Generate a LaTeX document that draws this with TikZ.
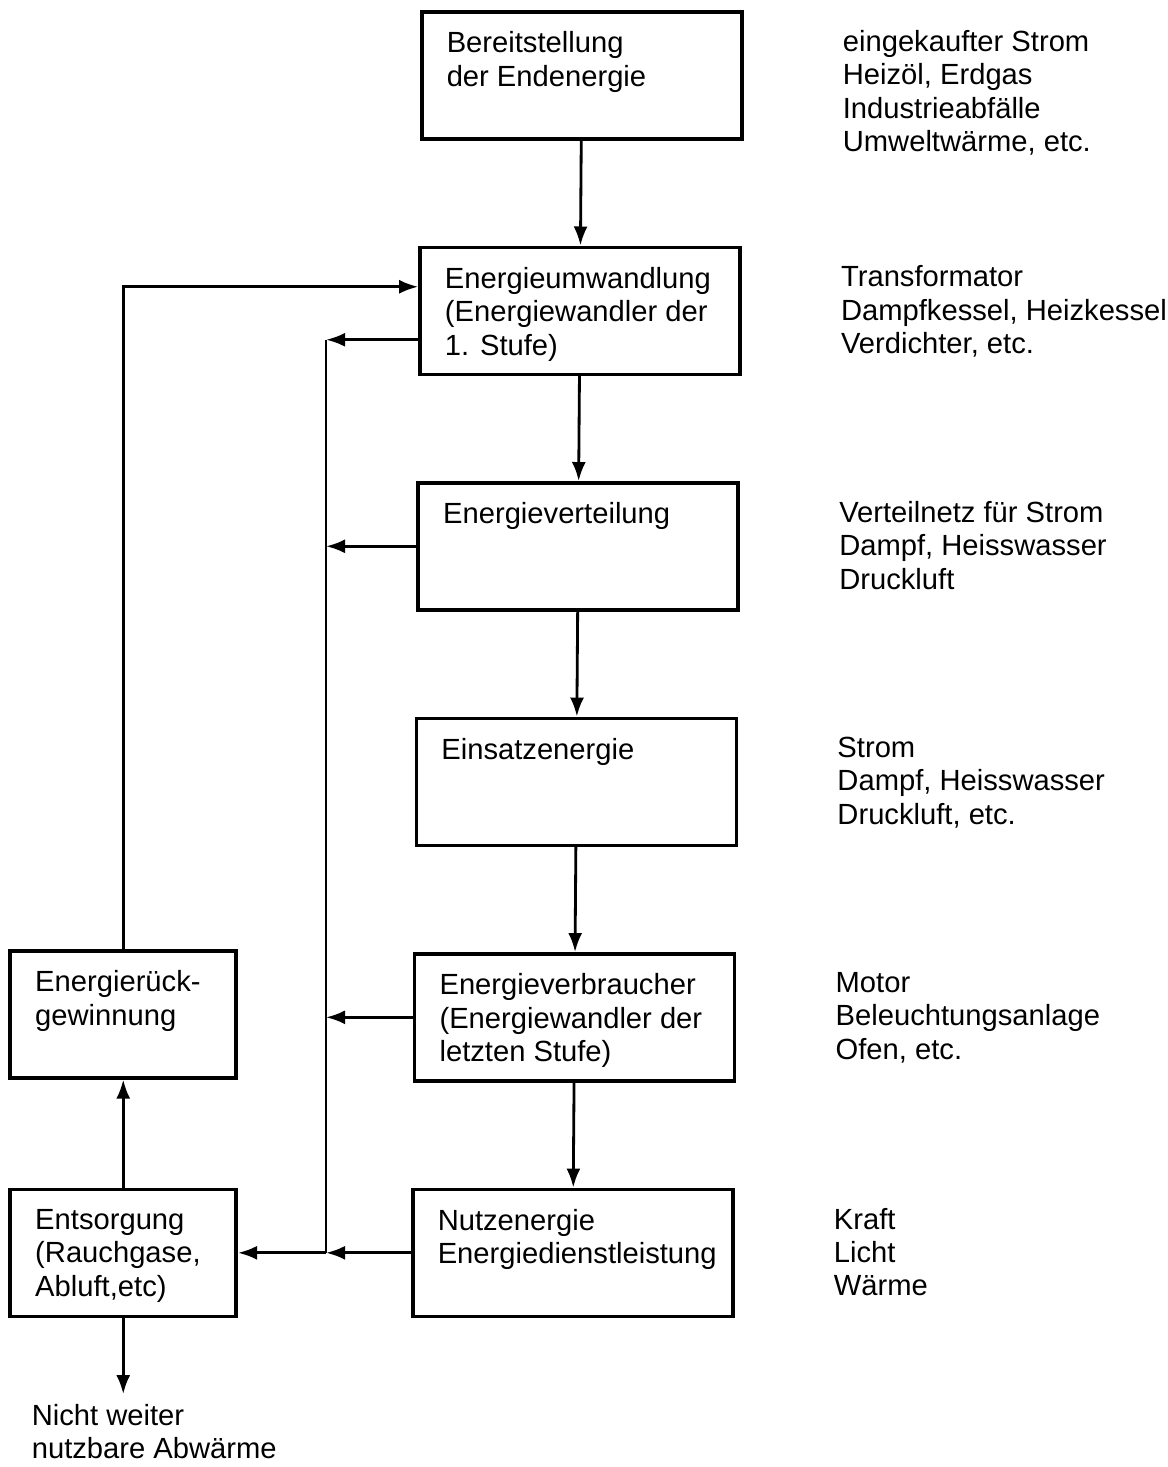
\documentclass[tikz,border=0pt]{standalone}
\usepackage{fontspec}
\setmainfont{Liberation Sans}
\usetikzlibrary{positioning,arrows.meta}

\newcommand{\boxtext}[2][5.4cm]{\parbox[t][1.74cm][t]{#1}{\raggedright #2}}

\begin{document}
\begin{tikzpicture}[node distance=2.1cm,
    every node/.style = {font=\fontsize{16.6}{19}\selectfont},
    stepbox/.style = {draw, line width=2pt, inner xsep=0.5cm, inner ysep=0.4cm},
    info/.style = {inner sep=0pt, align=left},
    flow/.style = {draw, line width=1.6pt, -{Latex[length=0.38cm,width=0.28cm]}}]
  \useasboundingbox (0,0) rectangle (23.34,-29.34);

  \node[stepbox, anchor=north west] (bereit) at (8.4,-0.2) {\boxtext{Bereitstellung\\der Endenergie}};
  \node[stepbox, below=of bereit, xshift=-0.036cm] (umwandl) {\boxtext{Energieumwandlung\\(Energiewandler der\\1. Stufe)}};
  \node[stepbox, below=of umwandl, xshift=-0.036cm] (verteil) {\boxtext{Energieverteilung}};
  \node[stepbox, below=of verteil, xshift=-0.036cm] (einsatz) {\boxtext{Einsatzenergie}};
  \node[stepbox, below=of einsatz, xshift=-0.036cm] (verbrauch) {\boxtext{Energieverbraucher\\(Energiewandler der\\letzten Stufe)}};
  \node[stepbox, below=of verbrauch, xshift=-0.036cm] (nutz) {\boxtext{Nutzenergie\\Energiedienstleistung}};
  \node[stepbox, left=3.46cm of nutz] (entsorg) {\boxtext[3.52cm]{Entsorgung\\(Rauchgase,\\Abluft,etc)}};
  \node[stepbox, above=2.16cm of entsorg] (rueck) {\boxtext[3.52cm]{Energierück-\\gewinnung}};

  \node[info, below right=0.4cm and 1.98cm of bereit.north east] (bereitinfo) {eingekaufter Strom\\Heizöl, Erdgas\\Industrieabfälle\\Umweltwärme, etc.};
  \node[info, below right=0.4cm and 1.98cm of umwandl.north east] (umwandlinfo) {Transformator\\Dampfkessel, Heizkessel\\Verdichter, etc.};
  \node[info, below right=0.4cm and 1.98cm of verteil.north east] (verteilinfo) {Verteilnetz für Strom\\Dampf, Heisswasser\\Druckluft};
  \node[info, below right=0.4cm and 1.98cm of einsatz.north east] (einsatzinfo) {Strom\\Dampf, Heisswasser\\Druckluft, etc.};
  \node[info, below right=0.4cm and 1.98cm of verbrauch.north east] (verbrauchinfo) {Motor\\Beleuchtungsanlage\\Ofen, etc.};
  \node[info, below right=0.4cm and 1.98cm of nutz.north east] (nutzinfo) {Kraft\\Licht\\Wärme};
  \node[info, below right=1.72cm and 0.46cm of entsorg.south west] (abwaerme) {Nicht weiter\\nutzbare Abwärme};

  \coordinate[left=1.7cm of nutz.west] (bus);
  \coordinate[below=0.58cm of umwandl.west] (umwout);
  \coordinate[above=0.48cm of umwandl.west] (umwin);
  \coordinate[below=1.52cm of entsorg.south] (abwend);

  \draw[flow] (bereit) -- (umwandl);
  \draw[flow] (umwandl) -- (verteil);
  \draw[flow] (verteil) -- (einsatz);
  \draw[flow] (einsatz) -- (verbrauch);
  \draw[flow] (verbrauch) -- (nutz);

  \draw[line width=1.6pt] (umwout -| bus) -- (bus);
  \draw[flow] (umwout) -- (umwout -| bus);
  \draw[flow] (verteil.west) -- (verteil.west -| bus);
  \draw[flow] (verbrauch.west) -- (verbrauch.west -| bus);
  \draw[flow] (nutz.west) -- (bus);
  \draw[flow] (bus) -- (entsorg.east);

  \draw[flow] (entsorg) -- (rueck);
  \draw[flow] (rueck.north) |- (umwin);
  \draw[flow] (entsorg.south) -- (abwend);
\end{tikzpicture}
\end{document}
